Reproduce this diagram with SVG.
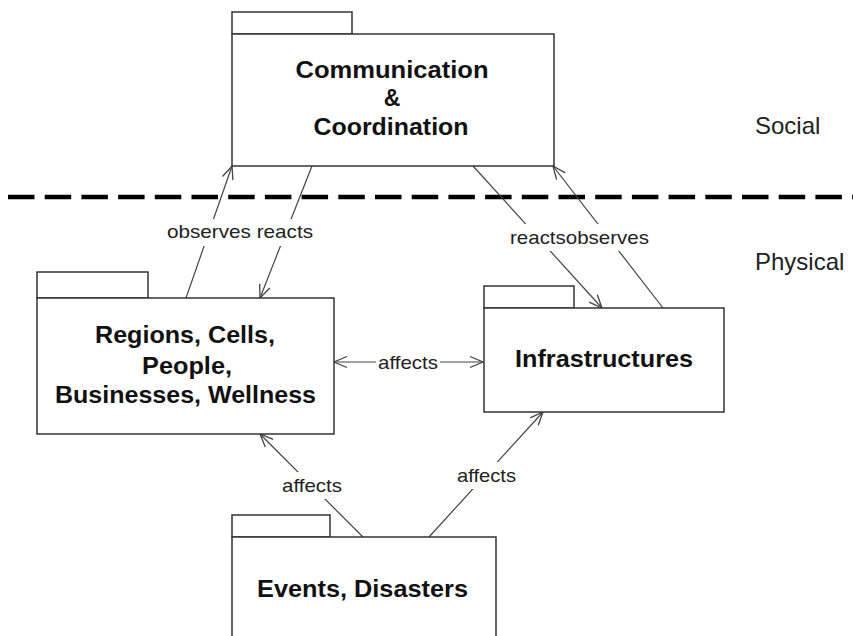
<svg xmlns="http://www.w3.org/2000/svg" width="853" height="636" viewBox="0 0 853 636">
  <style>
    .pkg { fill: #fff; stroke: #333; stroke-width: 1.5; }
    .title { font-family: "Liberation Sans", Arial, sans-serif; font-weight: bold; font-size: 23px; fill: #111; text-anchor: middle; }
    .layer { font-family: "Liberation Sans", Arial, sans-serif; font-size: 24px; fill: #222; }
    .lbl { font-family: "Liberation Sans", Arial, sans-serif; font-size: 19px; fill: #222; }
    .conn { stroke: #444; stroke-width: 1.2; fill: none; }
    .bg { fill: #fff; }
  </style>
  <defs>
    <marker id="open" markerUnits="userSpaceOnUse" markerWidth="16" markerHeight="14" viewBox="-14 -7 16 14" refX="0" refY="0" orient="auto-start-reverse">
      <path d="M-13,-5.5 L0,0 L-13,5.5" fill="none" stroke="#444" stroke-width="1.3"/>
    </marker>
  </defs>
  <rect width="853" height="636" fill="#fff"/>

  <!-- layer separator -->
  <line x1="8" y1="197" x2="853" y2="197" stroke="#000" stroke-width="4.5" stroke-dasharray="26.5 10.2"/>
  <text class="layer" x="755" y="134">Social</text>
  <text class="layer" x="755" y="270">Physical</text>

  <!-- connectors -->
  <g id="connectors">
    <line class="conn" x1="186" y1="298" x2="232" y2="166" marker-end="url(#open)"/>
    <line class="conn" x1="312" y1="166" x2="260" y2="298" marker-end="url(#open)"/>
    <line class="conn" x1="473" y1="166" x2="602" y2="308" marker-end="url(#open)"/>
    <line class="conn" x1="663" y1="308" x2="553" y2="166" marker-end="url(#open)"/>
    <line class="conn" x1="334" y1="362" x2="483" y2="362" marker-start="url(#open)" marker-end="url(#open)"/>
    <line class="conn" x1="363" y1="537" x2="260" y2="434" marker-end="url(#open)"/>
    <line class="conn" x1="429" y1="537" x2="543" y2="412" marker-end="url(#open)"/>

    <rect class="bg" x="163" y="219" width="154" height="27"/>
    <text class="lbl" x="167" y="238" textLength="146" lengthAdjust="spacingAndGlyphs">observes reacts</text>
    <rect class="bg" x="506" y="224" width="147" height="27"/>
    <text class="lbl" x="510" y="244" textLength="139" lengthAdjust="spacingAndGlyphs">reactsobserves</text>
    <rect class="bg" x="376" y="352" width="64" height="22"/>
    <text class="lbl" x="378" y="369" textLength="60" lengthAdjust="spacingAndGlyphs">affects</text>
    <rect class="bg" x="278" y="472" width="68" height="27"/>
    <text class="lbl" x="282" y="492" textLength="60" lengthAdjust="spacingAndGlyphs">affects</text>
    <rect class="bg" x="453" y="462" width="67" height="27"/>
    <text class="lbl" x="457" y="482" textLength="59" lengthAdjust="spacingAndGlyphs">affects</text>
  </g>

  <!-- packages -->
  <g id="communication">
    <rect class="pkg" x="232" y="12" width="120" height="22"/>
    <rect class="pkg" x="232" y="34" width="322" height="132"/>
    <text class="title" x="392" y="78" textLength="193" lengthAdjust="spacingAndGlyphs">Communication</text>
    <text class="title" x="392" y="106">&amp;</text>
    <text class="title" x="391" y="135" textLength="155" lengthAdjust="spacingAndGlyphs">Coordination</text>
  </g>

  <g id="regions">
    <rect class="pkg" x="37" y="272" width="111" height="26"/>
    <rect class="pkg" x="37" y="298" width="297" height="136"/>
    <text class="title" x="185" y="343" textLength="180" lengthAdjust="spacingAndGlyphs">Regions, Cells,</text>
    <text class="title" x="187" y="374" textLength="90" lengthAdjust="spacingAndGlyphs">People,</text>
    <text class="title" x="185.5" y="403" textLength="261" lengthAdjust="spacingAndGlyphs">Businesses, Wellness</text>
  </g>

  <g id="infrastructures">
    <rect class="pkg" x="484" y="286" width="90" height="22"/>
    <rect class="pkg" x="484" y="308" width="240" height="104"/>
    <text class="title" x="604" y="367" textLength="178" lengthAdjust="spacingAndGlyphs">Infrastructures</text>
  </g>

  <g id="events">
    <rect class="pkg" x="232" y="515" width="98" height="22"/>
    <rect class="pkg" x="232" y="537" width="264" height="120"/>
    <text class="title" x="362.5" y="597" textLength="211" lengthAdjust="spacingAndGlyphs">Events, Disasters</text>
  </g>
</svg>
